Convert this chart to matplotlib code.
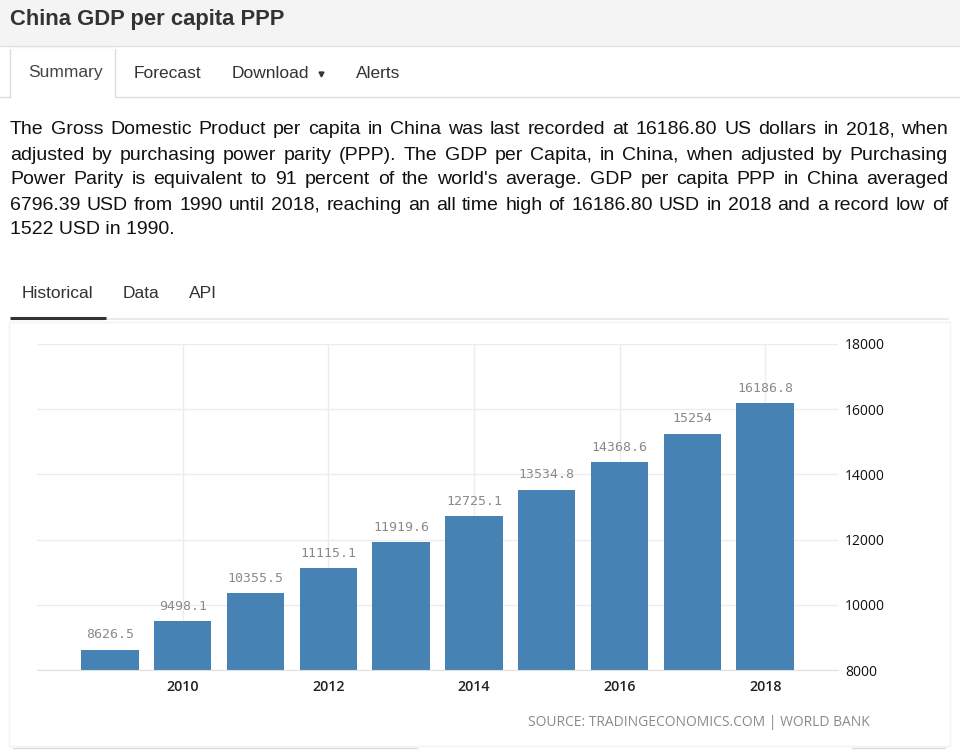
import matplotlib
matplotlib.use('Agg')
import matplotlib.pyplot as plt
from matplotlib.patches import Rectangle

years = [2009, 2010, 2011, 2012, 2013, 2014, 2015, 2016, 2017, 2018]
gdp_ppp = [8626.5, 9498.1, 10355.5, 11115.1, 11919.6, 12725.1, 13534.8, 14368.6, 15254, 16186.8]
year_ticks = [2010, 2012, 2014, 2016, 2018]
value_ticks = [8000, 10000, 12000, 14000, 16000, 18000]

title = 'China GDP per capita PPP'
top_tabs = ['Summary', 'Forecast', 'Download', 'Alerts']
chart_tabs = ['Historical', 'Data', 'API']
summary_lines = [
    "The Gross Domestic Product per capita in China was last recorded at 16186.80 US dollars in 2018, when",
    "adjusted by purchasing power parity (PPP). The GDP per Capita, in China, when adjusted by Purchasing",
    "Power Parity is equivalent to 91 percent of the world's average. GDP per capita PPP in China averaged",
    "6796.39 USD from 1990 until 2018, reaching an all time high of 16186.80 USD in 2018 and a record low of",
    "1522 USD in 1990.",
]
source = 'SOURCE: TRADINGECONOMICS.COM | WORLD BANK'

W, H = 960, 750
fig = plt.figure(figsize=(W / 100, H / 100), dpi=100)
page = fig.add_axes([0, 0, 1, 1], zorder=0)
page.set_xlim(0, W)
page.set_ylim(H, 0)
page.axis('off')
renderer = fig.canvas.get_renderer()

ui_font = ['Liberation Sans', 'DejaVu Sans']

# header band
page.add_patch(Rectangle((0, 0), W, 46, facecolor='#f4f4f4', edgecolor='none'))
page.plot([0, W], [46, 46], color='#e2e2e2', lw=1)
page.text(10, 20, title, fontsize=15.8, fontweight='bold', color='#333333',
          family=ui_font, va='center')

# top tabs
page.plot([0, 10, 10, 115, 115, W], [97, 97, 48, 48, 97, 97], color='#dddddd', lw=1)
page.plot([10, 115], [48, 48], color='#ffffff', lw=1)
tab_x = [28, 134, 232, 356]
for x, name in zip(tab_x, top_tabs):
    page.text(x, 73, name, fontsize=12.5, color='#444444' if name == 'Summary' else '#333333',
              family=ui_font, va='center')
page.plot([321], [74], marker='v', markersize=3.5, color='#333333')

# justified paragraph
par_left, par_right = 10, 948
for i, line in enumerate(summary_lines):
    y = 130 + i * 25
    words = line.split(' ')
    if i == len(summary_lines) - 1:
        page.text(par_left, y, line, fontsize=14, color='#111111', family=ui_font, va='center')
        continue
    objs = [page.text(0, y, w, fontsize=14, color='#111111', family=ui_font, va='center')
            for w in words]
    widths = [o.get_window_extent(renderer).width for o in objs]
    gap = (par_right - par_left - sum(widths)) / (len(words) - 1)
    x = par_left
    for o, w in zip(objs, widths):
        o.set_x(x)
        x += w + gap

# chart tabs
for x, name in zip([22, 123, 189], chart_tabs):
    page.text(x, 294, name, fontsize=12.5, color='#333333', family=ui_font, va='center')
page.plot([106, 948], [319, 319], color='#e6e6e6', lw=1.2)
page.plot([10, 106], [318, 318], color='#333333', lw=2.2, solid_capstyle='butt')

# chart container
page.add_patch(Rectangle((9, 322), 941, 424, facecolor='#ffffff', edgecolor='#f3f3f3', lw=1))
page.plot([13, 417], [748, 748], color='#dddddd', lw=1)
page.plot([852, 945], [748, 748], color='#dddddd', lw=1)

page.text(528, 722, source, fontsize=10, color='#8a8a8a', family=['Open Sans', 'DejaVu Sans'],
          va='center')

# bar chart
ax = fig.add_axes([37 / W, 1 - 670 / H, (838 - 37) / W, (670 - 344) / H], zorder=1)
ax.patch.set_alpha(0)
bars = ax.bar(years, gdp_ppp, width=0.79, color='#4682b4', zorder=2)
for b, v in zip(bars, gdp_ppp):
    ax.annotate('{:g}'.format(v), (b.get_x() + b.get_width() / 2, v),
                xytext=(0, 6), textcoords='offset points', ha='center', va='bottom',
                fontsize=9.5, color='#8a8a8a', family='DejaVu Sans Mono')

ax.set_xlim(2008, 2019)
ax.set_ylim(8000, 18000)
ax.set_xticks(year_ticks)
ax.set_yticks(value_ticks)
ax.yaxis.tick_right()
ax.tick_params(axis='both', length=0)
ax.tick_params(axis='x', pad=7, labelsize=10.3, labelcolor='#222222')
ax.tick_params(axis='y', pad=5, labelsize=10, labelcolor='#111111')
for lab in ax.get_xticklabels() + ax.get_yticklabels():
    lab.set_family(['Open Sans', 'DejaVu Sans'])
for lab in ax.get_xticklabels():
    lab.set_fontweight('semibold')
ax.grid(True, color='#ececec', lw=1, zorder=0)
ax.set_axisbelow(True)
for side in ['top', 'left', 'right']:
    ax.spines[side].set_visible(False)
ax.spines['bottom'].set_color('#e0e0e0')

fig.savefig('out.png', dpi=100)
